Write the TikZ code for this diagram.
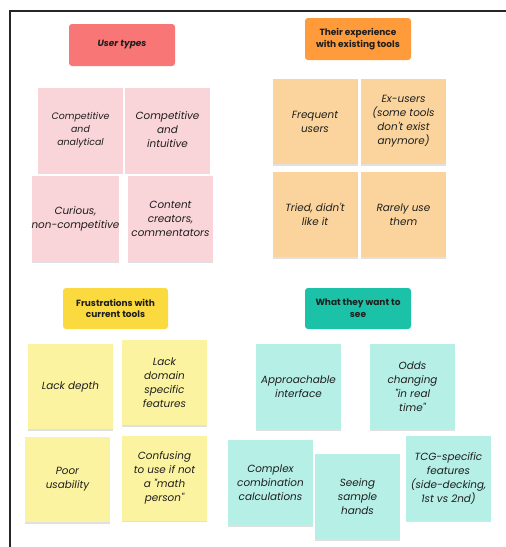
\documentclass[tikz,border=0pt]{standalone}
\usepackage{fontspec}
\setmainfont{Poppins}[Ligatures=TeXOff]
\usetikzlibrary{shadows}
\definecolor{hdred}{HTML}{F87676}
\definecolor{hdorange}{HTML}{FF9B3A}
\definecolor{hdyellow}{HTML}{FADA3E}
\definecolor{hdteal}{HTML}{1CC2A8}
\definecolor{stpink}{HTML}{F9D4D8}
\definecolor{storange}{HTML}{FAD49C}
\definecolor{styellow}{HTML}{FCF3A0}
\definecolor{stteal}{HTML}{B5EFE6}
\definecolor{ink}{HTML}{1E1E1E}
\tikzset{
  header/.style={rectangle, rounded corners=3pt, minimum width=106pt, minimum height=42pt, align=center, text=ink,
    font=\fontsize{9}{11.8}\selectfont\bfseries, inner sep=0pt},
  sticky/.style={rectangle, minimum width=85pt, minimum height=85pt, align=center, text=ink, inner sep=0pt,
    font=\fontsize{10.4}{14}\selectfont\itshape,
    drop shadow={shadow xshift=0pt, shadow yshift=-1.5pt, opacity=0.12, fill=black}},
}
\begin{document}
\begin{tikzpicture}[x=1pt,y=-1pt]
\useasboundingbox (0,0) rectangle (506,547);
\fill[white] (0,0) rectangle (506,547);
\coordinate (fbl) at (10,547);
\coordinate (ftl) at (10,11);
\coordinate (ftr) at (506,11);
\draw[line width=2pt, black!85] (fbl) -- (ftl) -- (ftr);

% headers
\node[header, fill=hdred] (hut) at (122,45) {\itshape User types};
\node[header, fill=hdorange] (hex) at (358,39) {Their experience\\with existing tools};
\node[header, fill=hdyellow, minimum height=41pt, minimum width=105pt] (hfr) at (115.5,308.5) {Frustrations with\\current tools};
\node[header, fill=hdteal, minimum height=41pt] (hww) at (358,308.5) {What they want to\\see};

% user types
\node[sticky, fill=stpink, font=\fontsize{9.4}{13}\selectfont\itshape] (a1) at (80.5,130) {Competitive\\and\\analytical};
\node[sticky, fill=stpink] (a2) at (167.5,130) {Competitive\\and\\intuitive};
\node[sticky, fill=stpink] (a3) at (75.5,218.5) {Curious,\\non-competitive};
\node[sticky, fill=stpink] (a4) at (170.5,218.5) {Content\\creators,\\commentators};

% experience
\node[sticky, fill=storange] (b1) at (315,121.5) {Frequent\\users};
\node[sticky, fill=storange] (b2) at (403.5,121.5) {Ex-users\\(some tools\\don't exist\\anymore)};
\node[sticky, fill=storange] (b3) at (315,214.5) {Tried, didn't\\like it};
\node[sticky, fill=storange] (b4) at (403.5,214.5) {Rarely use\\them};

% frustrations
\node[sticky, fill=styellow] (c1) at (70.5,386.5) {Lack depth};
\node[sticky, fill=styellow] (c2) at (164.5,382.5) {Lack\\domain\\specific\\features};
\node[sticky, fill=styellow] (c3) at (67.5,479.5) {Poor\\usability};
\node[sticky, fill=styellow] (c4) at (164.5,478) {Confusing\\to use if not\\a "math\\person"};

% wants
\node[sticky, fill=stteal] (d1) at (298.5,386.5) {Approachable\\interface};
\node[sticky, fill=stteal] (d2) at (412.5,386.5) {Odds\\changing\\"in real\\time"};
\node[sticky, fill=stteal] (d3) at (270.5,482.5) {Complex\\combination\\calculations};
\node[sticky, fill=stteal] (d4) at (357.5,496.5) {Seeing\\sample\\hands};
\node[sticky, fill=stteal] (d5) at (448.5,478) {TCG-specific\\features\\(side-decking,\\1st vs 2nd)};
\end{tikzpicture}
\end{document}
